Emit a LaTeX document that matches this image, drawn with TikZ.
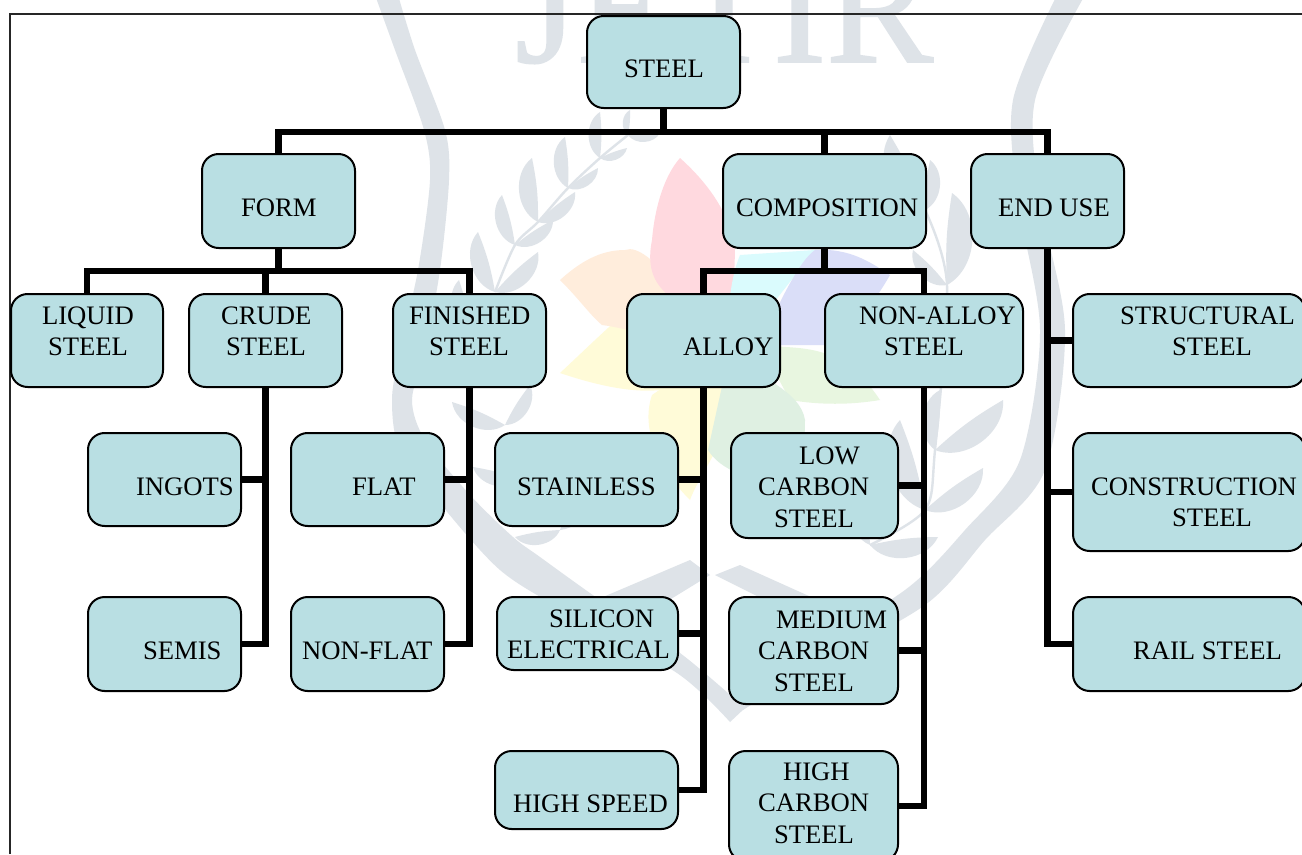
\documentclass[tikz,border=0pt]{standalone}
\usepackage{fontspec}
\setmainfont{Liberation Serif}
\newfontfamily\wmfont[FakeBold=1.2]{Liberation Serif}
\usetikzlibrary{calc}
\newdimen\pxu \pxu=0.75pt
\newcommand{\off}[1]{\kern#1\pxu}
\definecolor{wmgrey}{HTML}{DEE3E8}
\definecolor{boxfill}{HTML}{B9DFE3}
\tikzset{
  box/.style={draw=black,line width=1.5pt,fill=boxfill,rounded corners=12.5pt,inner sep=0pt,outer sep=0pt},
  lbl/.style={anchor=base west,inner sep=0pt,outer sep=0pt,font=\fontsize{20}{23.7}\selectfont,text=black},
  conn/.style={draw=black,line width=4.8pt},
  frameline/.style={draw=black!85,line width=1.2pt},
  wm/.style={fill=wmgrey,draw=none},
}
% box by left, top, right, bottom in reference pixels
\newcommand{\bx}[5]{\node[box,minimum width={(#4-#2)*0.75pt},minimum height={(#5-#3)*0.75pt}] (#1) at ({(#2+#4)/2},{(#3+#5)/2}) {};}
% label by left edge and first baseline in reference pixels
\newcommand{\lb}[4]{\node[lbl] (#1) at (#2,#3) {\vtop{#4}};}
% pair of watermark leaves: base, tip 1, tip 2
\newcommand{\leaves}[3]{%
  \fill[wm] #1 to[bend left=58] #2 to[bend left=6] #1;
  \fill[wm] #1 to[bend right=58] #3 to[bend right=6] #1;}
\begin{document}
\begin{tikzpicture}[x=0.75pt,y=-0.75pt]
\path[use as bounding box,fill=white] (0,0) rectangle (1302,854);
% ---------- watermark ----------
\definecolor{petpink}{HTML}{FFD9DF}
\definecolor{petpeach}{HTML}{FFEDDC}
\definecolor{petyellow}{HTML}{FFFBD8}
\definecolor{petblue}{HTML}{DADEF8}
\definecolor{petcyan}{HTML}{DAFBFD}
\definecolor{petgreen}{HTML}{E8F6E0}
\definecolor{petteal}{HTML}{DFF0E2}
\fill[petyellow] (725,345) .. controls (700,400) and (640,400) .. (560,373) .. controls (590,345) and (610,325) .. (640,300) -- cycle;
\fill[petyellow] (725,345) .. controls (760,400) and (700,470) .. (690,500) .. controls (660,470) and (640,430) .. (652,395) -- cycle;
\fill[petpeach] (725,345) .. controls (700,320) and (650,240) .. (625,250) .. controls (600,250) and (580,262) .. (560,280) .. controls (580,300) and (590,315) .. (602,325) .. controls (640,330) and (690,350) .. (725,345) -- cycle;
\fill[petpink] (725,340) .. controls (690,300) and (640,300) .. (652,240) .. controls (655,205) and (665,175) .. (680,158) .. controls (710,185) and (725,210) .. (735,240) .. controls (735,290) and (730,320) .. (725,340) -- cycle;
\fill[petcyan] (725,340) .. controls (730,300) and (730,280) .. (740,255) -- (815,250) -- (760,320) -- cycle;
\fill[petblue] (760,345) .. controls (780,300) and (800,260) .. (815,250) .. controls (850,248) and (870,262) .. (890,275) .. controls (870,310) and (850,330) .. (825,345) -- cycle;
\fill[petgreen] (760,345) .. controls (800,350) and (840,340) .. (880,400) .. controls (850,405) and (820,405) .. (790,400) -- cycle;
\fill[petteal] (730,350) .. controls (760,380) and (800,390) .. (805,420) .. controls (805,450) and (800,470) .. (790,490) .. controls (750,480) and (720,470) .. (708,450) -- cycle;
% letters
\node[anchor=base west,inner sep=0pt,text=wmgrey,font=\wmfont\fontsize{120}{120}\selectfont] (wmtext) at (515,62) {JETIR};
% left arc of the wreath
\fill[wm] plot[smooth] coordinates {(375,-5) (395,50) (424,130) (430,180) (418,270) (400,350) (392,400) (400,450) (443,507) (500,570) (563,610) (677,673) (730,722)}
  -- plot[smooth] coordinates {(745,708) (680,653) (600,600) (540,557) (513,537) (470,495) (425,440) (412,400) (425,350) (440,270) (449,180) (445,130) (415,50) (398,-5)} -- cycle;
% right arc of the wreath
\fill[wm] plot[smooth] coordinates {(1085,-5) (1035,100) (1040,200) (1065,330) (1045,470) (985,540) (925,605) (800,675) (743,710)}
  -- plot[smooth] coordinates {(735,690) (790,660) (905,590) (965,530) (1020,460) (1040,330) (1018,200) (1013,100) (1057,-5)} -- cycle;
% crossing ribbons under the flower
\fill[wm] (596,600) -- (690,560) -- (710,575) -- (640,618) -- cycle;
\fill[wm] (715,575) -- (740,565) -- (840,610) -- (815,625) -- cycle;
% stems
\draw[wmgrey,line width=1.8pt] plot[smooth] coordinates {(495,292) (515,245) (538,222) (568,188) (600,158) (628,135)};
\draw[wmgrey,line width=1.8pt] plot[smooth] coordinates {(870,545) (925,510) (935,450) (947,285) (925,210)};
% leaves, left branch
\leaves{(495,292)}{(478,232)}{(538,252)}
\leaves{(515,245)}{(502,195)}{(553,220)}
\leaves{(538,222)}{(532,158)}{(575,192)}
\leaves{(568,188)}{(565,137)}{(598,168)}
\leaves{(600,158)}{(600,112)}{(627,148)}
\leaves{(628,135)}{(630,110)}{(660,133)}
\leaves{(470,330)}{(459,280)}{(480,300)}
\leaves{(505,425)}{(452,402)}{(530,385)}
\leaves{(520,480)}{(473,467)}{(560,440)}
\leaves{(560,530)}{(515,537)}{(590,470)}
% leaves, right branch
\leaves{(925,210)}{(890,135)}{(930,160)}
\leaves{(947,285)}{(913,250)}{(952,193)}
\leaves{(935,450)}{(940,390)}{(1003,400)}
\leaves{(925,510)}{(900,420)}{(983,468)}
\leaves{(870,545)}{(860,480)}{(938,537)}
% ---------- frame ----------
\coordinate (fa) at (10,854);
\coordinate (fb) at (10,14);
\coordinate (fc) at (1302,14);
\draw[frameline] (fa) -- (fb) -- (fc);
% ---------- boxes ----------
\bx{steel}{587}{16}{740}{108}
\bx{form}{202}{154}{355}{248}
\bx{composition}{723}{154}{926}{248}
\bx{enduse}{971}{154}{1124}{248}
\bx{liquid}{11}{294}{163}{387}
\bx{crude}{189}{294}{342}{387}
\bx{finished}{393}{294}{546}{387}
\bx{alloy}{627}{294}{780}{387}
\bx{nonalloy}{825}{294}{1023}{387}
\bx{structural}{1073}{294}{1305}{387}
\bx{ingots}{88}{433}{241}{526}
\bx{semis}{88}{597}{241}{691}
\bx{flat}{291}{433}{444}{526}
\bx{nonflat}{291}{597}{444}{691}
\bx{stainless}{495}{433}{678}{526}
\bx{silicon}{497}{597}{678}{670}
\bx{highspeed}{495}{751}{678}{829}
\bx{lowc}{731}{433}{898}{538}
\bx{medc}{729}{597}{898}{704}
\bx{highc}{729}{751}{898}{861}
\bx{construction}{1073}{433}{1305}{551}
\bx{rail}{1073}{597}{1305}{691}
% ---------- connectors ----------
\coordinate (busa) at (663.5,131.7);
\coordinate (busb) at (278.5,270.7);
\coordinate (busc) at (824.5,270.7);
\draw[conn] (steel.south) -- (busa);
\draw[conn] (form.north) |- (busa) -| (enduse.north);
\draw[conn] (composition.north) -- (composition.north |- busa);
\draw[conn] (form.south) -- (busb);
\draw[conn] (liquid.north) |- (busb) -| (finished.north);
\draw[conn] (crude.north) -- (crude.north |- busb);
\draw[conn] (composition.south) -- (busc);
\draw[conn] (alloy.north) |- (busc) -| (nonalloy.north);
\draw[conn] (crude.south) |- (semis.east);
\draw[conn] (ingots.east) -- (ingots.east -| crude.south);
\draw[conn] (finished.south) |- (nonflat.east);
\draw[conn] (flat.east) -- (flat.east -| finished.south);
\draw[conn] (alloy.south) |- (highspeed.east);
\draw[conn] (stainless.east) -- (stainless.east -| alloy.south);
\draw[conn] (silicon.east) -- (silicon.east -| alloy.south);
\draw[conn] (nonalloy.south) |- (highc.east);
\draw[conn] (lowc.east) -- (lowc.east -| nonalloy.south);
\draw[conn] (medc.east) -- (medc.east -| nonalloy.south);
\draw[conn] (enduse.south) |- (rail.west);
\draw[conn] (structural.west) -- (structural.west -| enduse.south);
\draw[conn] (construction.west) -- (construction.west -| enduse.south);
% ---------- labels ----------
\lb{tsteel}{624}{77}{\hbox{STEEL}}
\lb{tform}{241}{216}{\hbox{FORM}}
\lb{tcomposition}{736}{216}{\hbox{COMPOSITION}}
\lb{tenduse}{998}{216}{\hbox{END USE}}
\lb{tliquid}{42}{324}{\hbox{LIQUID}\hbox{\off{6}STEEL}}
\lb{tcrude}{221}{324}{\hbox{CRUDE}\hbox{\off{5}STEEL}}
\lb{tfinished}{409}{324}{\hbox{FINISHED}\hbox{\off{20}STEEL}}
\lb{talloy}{683}{355}{\hbox{ALLOY}}
\lb{tnonalloy}{859}{324}{\hbox{NON-ALLOY}\hbox{\off{25}STEEL}}
\lb{tstructural}{1120}{324}{\hbox{STRUCTURAL}\hbox{\off{52}STEEL}}
\lb{tingots}{136}{495}{\hbox{INGOTS}}
\lb{tsemis}{143}{659}{\hbox{SEMIS}}
\lb{tflat}{352}{495}{\hbox{FLAT}}
\lb{tnonflat}{302}{659}{\hbox{NON-FLAT}}
\lb{tstainless}{517}{495}{\hbox{STAINLESS}}
\lb{tsilicon}{507}{627}{\hbox{\off{42}SILICON}\hbox{ELECTRICAL}}
\lb{thighspeed}{513}{812}{\hbox{HIGH SPEED}}
\lb{tlowc}{758}{464}{\hbox{\off{41}LOW}\hbox{CARBON}\hbox{\off{16}STEEL}}
\lb{tmedc}{758}{628}{\hbox{\off{18}MEDIUM}\hbox{CARBON}\hbox{\off{16}STEEL}}
\lb{thighc}{758}{780}{\hbox{\off{25}HIGH}\hbox{CARBON}\hbox{\off{16}STEEL}}
\lb{tconstruction}{1091}{495}{\hbox{CONSTRUCTION}\hbox{\off{81}STEEL}}
\lb{trail}{1133}{659}{\hbox{RAIL STEEL}}
\end{tikzpicture}
\end{document}
